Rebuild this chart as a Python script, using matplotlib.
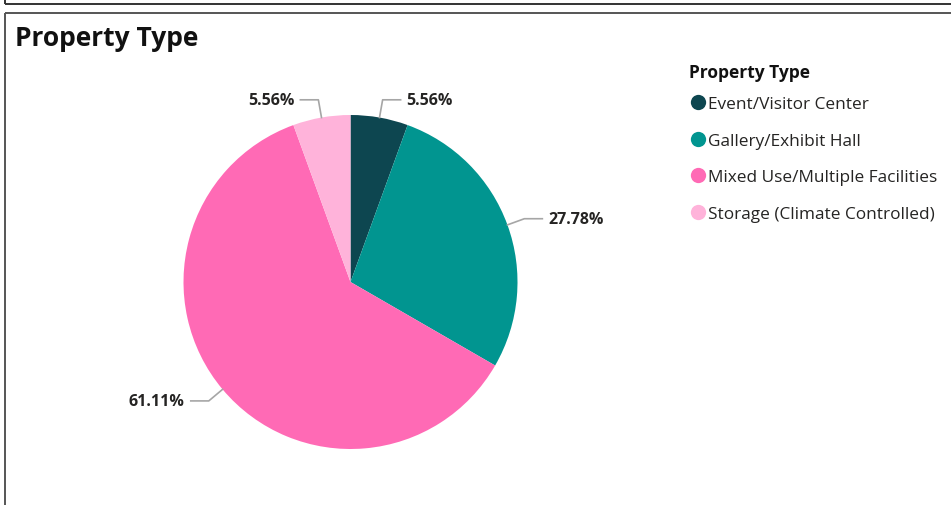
import numpy as np
import matplotlib.pyplot as plt
from matplotlib.lines import Line2D

categories = ['Event/Visitor Center', 'Gallery/Exhibit Hall',
              'Mixed Use/Multiple Facilities', 'Storage (Climate Controlled)']
counts = [1, 5, 11, 1]
colors = ['#0D4650', '#019590', '#FF6AB5', '#FFB3DA']

W, H = 951, 506
plt.rcParams['font.family'] = ['Open Sans', 'DejaVu Sans']

fig = plt.figure(figsize=(W / 100, H / 100), dpi=100)
ax = fig.add_axes([0, 0, 1, 1])

# frames (pixel coords, y from top)
def hline(x0, x1, y, c, lw):
    ax.add_line(Line2D([x0, x1], [H - y, H - y], color=c, lw=lw, solid_capstyle='butt'))

def vline(x, y0, y1, c, lw):
    ax.add_line(Line2D([x, x], [H - y0, H - y1], color=c, lw=lw, solid_capstyle='butt'))

hline(5, W, 5, '#333333', 1.4)
vline(5, 0, 5, '#333333', 1.4)
hline(5, W, 14, '#555555', 1.4)
vline(5, 14, H, '#555555', 1.4)

fig.text(15 / W, 1 - 38 / H, 'Property Type', fontsize=19, fontweight='bold',
         color='#111111', va='center', ha='left')

cx, cy, r = 350.5, H - 283, 167
wedges, _ = ax.pie(counts, colors=colors, startangle=90, counterclock=False,
                   center=(cx, cy), radius=r, frame=True,
                   wedgeprops=dict(linewidth=0))
ax.set_xlim(0, W)
ax.set_ylim(0, H)
ax.set_aspect('equal')
ax.axis('off')

total = sum(counts)
start = 0.0
for v in counts:
    ang = 360.0 * v / total
    mid = np.deg2rad(start + ang / 2)
    start += ang
    dx, dy = np.sin(mid), np.cos(mid)
    p0 = (cx + r * dx, cy + r * dy)
    p1 = (cx + (r + 18) * dx, cy + (r + 18) * dy)
    side = 1 if dx > 0 else -1
    p2 = (p1[0] + 18 * side, p1[1])
    ax.plot([p0[0], p1[0], p2[0]], [p0[1], p1[1], p2[1]], color='#a6a6a6', lw=1.2)
    ax.text(p2[0] + 6 * side, p2[1], f'{100 * v / total:.2f}%', fontsize=11.5,
            fontweight='bold', color='#252423',
            ha='left' if side > 0 else 'right', va='center')

# legend title drawn separately to control spacing
fig.text(689 / W, 1 - 73 / H, 'Property Type', fontsize=12.5, fontweight='bold',
         color='#111111', va='center', ha='left')

handles = [Line2D([], [], marker='o', ls='', markersize=11, markerfacecolor=c,
                  markeredgewidth=0) for c in colors]
leg = fig.legend(handles, categories, loc='upper left',
                 bbox_to_anchor=(689 / W, 1 - 97 / H), frameon=False, fontsize=12.4,
                 handletextpad=0.1, handlelength=1.0, labelspacing=1.2,
                 borderaxespad=0, borderpad=0)
for t in leg.get_texts():
    t.set_color('#252423')

fig.savefig('out.png', dpi=100)
